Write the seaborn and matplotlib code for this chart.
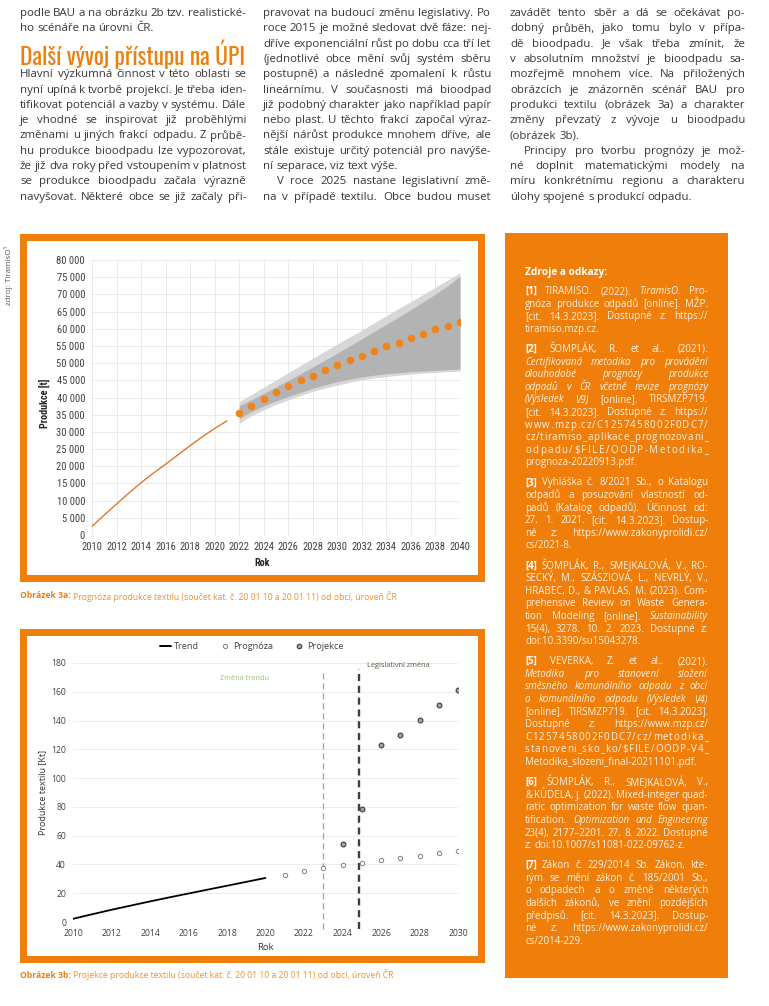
import matplotlib
matplotlib.use("Agg")
import matplotlib.pyplot as plt
import seaborn as sns
from matplotlib.font_manager import FontProperties, fontManager
from matplotlib.patches import Rectangle
from matplotlib.lines import Line2D
from matplotlib.ticker import FuncFormatter, MultipleLocator

# ---------------- data: obrázek 3a (BAU, tuny) ----------------
years_hist = [2010, 2011, 2012, 2013, 2014, 2015, 2016, 2017, 2018, 2019, 2020, 2021]
prod_hist = [2500, 5800, 9000, 12200, 15200, 18000, 20600, 23300, 26000, 28600, 31000, 33200]

years_fc = [2022, 2023, 2024, 2025, 2026, 2027, 2028, 2029, 2030, 2031,
            2032, 2033, 2034, 2035, 2036, 2037, 2038, 2039, 2040]
prod_fc = [35500, 37600, 39700, 41600, 43300, 45000, 46300, 48100, 49500, 50900,
           52200, 53600, 54900, 56000, 57200, 58600, 59800, 60900, 62100]
band_outer_hi = [38800, 40900, 43000, 45100, 47200, 49300, 51400, 53500, 55600, 57600,
                 59600, 61700, 63800, 65900, 67900, 70000, 72100, 74200, 76300]
band_inner_hi = [37600, 39400, 41200, 43100, 45000, 46900, 48900, 50900, 52900, 55000,
                 57100, 59200, 61300, 63400, 65600, 67800, 70100, 72500, 75300]
band_inner_lo = [33900, 35900, 37600, 39000, 40300, 41500, 42700, 43700, 44600, 45300,
                 46000, 46500, 46900, 47200, 47500, 47700, 47900, 48100, 48300]
band_outer_lo = [32500, 34700, 36400, 38000, 39300, 40600, 41800, 42800, 43600, 44400,
                 45100, 45700, 46100, 46500, 46800, 47100, 47300, 47500, 47700]

# ---------------- data: obrázek 3b (Kt) ----------------
years_trend = [2010, 2011, 2012, 2013, 2014, 2015, 2016, 2017, 2018, 2019, 2020]
trend_kt = [2.2, 5.4, 8.5, 11.4, 14.3, 17.1, 19.8, 22.5, 25.2, 27.9, 30.6]
years_prog = [2021, 2022, 2023, 2024, 2025, 2026, 2027, 2028, 2029, 2030]
prog_kt = [32.9, 35.2, 37.5, 39.4, 41.0, 42.9, 44.5, 46.1, 47.7, 49.1]
years_proj = [2024, 2025, 2026, 2027, 2028, 2029, 2030]
proj_kt = [54.4, 78.8, 122.8, 129.7, 140.1, 151.0, 161.2]
trend_change_year = 2023
legislation_year = 2024.87

# ---------------- page text ----------------
# "|" = last line of paragraph (no justify), ">" = indented first line, "" = empty row
col1 = ["podle BAU a na obrázku 2b tzv. realistické-",
        "ho scénáře na úrovni ČR.|", "", "",
        "Hlavní výzkumná činnost v této oblasti se",
        "nyní upíná k tvorbě projekcí. Je třeba iden-",
        "tifikovat potenciál a vazby v systému. Dále",
        "je vhodné se inspirovat již proběhlými",
        "změnami u jiných frakcí odpadu. Z průbě-",
        "hu produkce bioodpadu lze vypozorovat,",
        "že již dva roky před vstoupením v platnost",
        "se produkce bioodpadu začala výrazně",
        "navyšovat. Některé obce se již začaly při-"]
col2 = ["pravovat na budoucí změnu legislativy. Po",
        "roce 2015 je možné sledovat dvě fáze: nej-",
        "dříve exponenciální růst po dobu cca tří let",
        "(jednotlivé obce mění svůj systém sběru",
        "postupně) a následné zpomalení k růstu",
        "lineárnímu. V současnosti má bioodpad",
        "již podobný charakter jako například papír",
        "nebo plast. U těchto frakcí započal výraz-",
        "nější nárůst produkce mnohem dříve, ale",
        "stále existuje určitý potenciál pro navýše-",
        "ní separace, viz text výše.|",
        ">V roce 2025 nastane legislativní změ-",
        "na v případě textilu. Obce budou muset"]
col3 = ["zavádět tento sběr a dá se očekávat po-",
        "dobný průběh, jako tomu bylo v přípa-",
        "dě bioodpadu. Je však třeba zmínit, že",
        "v absolutním množství je bioodpadu sa-",
        "mozřejmě mnohem více. Na přiložených",
        "obrázcích je znázorněn scénář BAU pro",
        "produkci textilu (obrázek 3a) a charakter",
        "změny převzatý z vývoje u bioodpadu",
        "(obrázek 3b).|",
        ">Principy pro tvorbu prognózy je mož-",
        "né doplnit matematickými modely na",
        "míru konkrétnímu regionu a charakteru",
        "úlohy spojené s produkcí odpadu.|"]
heading = "Další vývoj přístupu na ÚPI"

# "^" bold, "~" italic
refs = [
    ["^[1]^ TIRAMISO. (2022). ~TiramisO.~ Pro-",
     "gnóza produkce odpadů [online]. MŽP.",
     "[cit. 14.3.2023]. Dostupné z: https://",
     "tiramiso.mzp.cz."],
    ["^[2]^ ŠOMPLÁK, R. et al.. (2021).",
     "~Certifikovaná metodika pro provádění~",
     "~dlouhodobé prognózy produkce~",
     "~odpadů v ČR včetně revize prognózy~",
     "~(Výsledek V9)~ [online]. TIRSMZP719.",
     "[cit. 14.3.2023]. Dostupné z: https://",
     "www.mzp.cz/C1257458002F0DC7/",
     "cz/tiramiso_aplikace_prognozovani_",
     "odpadu/$FILE/OODP-Metodika_",
     "prognoza-20220913.pdf."],
    ["^[3]^ Vyhláška č. 8/2021 Sb., o Katalogu",
     "odpadů a posuzování vlastností od-",
     "padů (Katalog odpadů). Účinnost od:",
     "27. 1. 2021. [cit. 14.3.2023]. Dostup-",
     "né z: https://www.zakonyprolidi.cz/",
     "cs/2021-8."],
    ["^[4]^ ŠOMPLÁK, R., SMEJKALOVÁ, V., RO-",
     "SECKÝ, M., SZÁSZIOVÁ, L., NEVRLÝ, V.,",
     "HRABEC, D., & PAVLAS, M. (2023). Com-",
     "prehensive Review on Waste Genera-",
     "tion Modeling [online]. ~Sustainability~",
     "15(4), 3278. 10. 2. 2023. Dostupné z:",
     "doi:10.3390/su15043278."],
    ["^[5]^ VEVERKA, Z. et al.. (2021).",
     "~Metodika pro stanovení složení~",
     "~směsného komunálního odpadu z obcí~",
     "~a komunálního odpadu (Výsledek V4)~",
     "[online]. TIRSMZP719. [cit. 14.3.2023].",
     "Dostupné z: https://www.mzp.cz/",
     "C1257458002F0DC7/cz/metodika_",
     "stanoveni_sko_ko/$FILE/OODP-V4_",
     "Metodika_slozeni_final-20211101.pdf."],
    ["^[6]^ ŠOMPLÁK, R., SMEJKALOVÁ, V.,",
     "& KŮDELA, J. (2022). Mixed-integer quad-",
     "ratic optimization for waste flow quan-",
     "tification. ~Optimization and Engineering~",
     "23(4), 2177–2201. 27. 8. 2022. Dostupné",
     "z: doi:10.1007/s11081-022-09762-z."],
    ["^[7]^ Zákon č. 229/2014 Sb. Zákon, kte-",
     "rým se mění zákon č. 185/2001 Sb.,",
     "o odpadech a o změně některých",
     "dalších zákonů, ve znění pozdějších",
     "předpisů. [cit. 14.3.2023]. Dostup-",
     "né z: https://www.zakonyprolidi.cz/",
     "cs/2014-229."],
]

ORANGE = "#ef7f0a"
TEXT = "#383838"
W, H = 769, 1006

sns.set_theme(style="white")
names = {f.name for f in fontManager.ttflist}


def pick(*cands):
    for c in cands:
        if c in names:
            return c
    return "Open Sans"


SANS = "Open Sans"
BODY = SANS
HEAD = pick("Oswald", "Fira Sans Extra Condensed", "Roboto Condensed", "Barlow Condensed")
COND = pick("Roboto Condensed", "Fira Sans Condensed", "Barlow Condensed", "Archivo Narrow")
plt.rcParams["font.family"] = [SANS, "DejaVu Sans"]

fig = plt.figure(figsize=(W / 100, H / 100), dpi=100)
renderer = fig.canvas.get_renderer()
page = fig.add_axes([0, 0, 1, 1], zorder=0)
page.set_xlim(0, W)
page.set_ylim(H, 0)
page.axis("off")


def fp(family, size, b=False, i=False):
    return FontProperties(family=family, size=size,
                          weight="bold" if b else "normal",
                          style="italic" if i else "normal")


def tw(s, prop):
    w, h, d = renderer.get_text_width_height_descent(s, prop, ismath=False)
    return w


def space_w(prop):
    return tw("x x", prop) - tw("xx", prop)


def parse(line):
    out = []
    bold = ital = False
    for w in line.split(" "):
        if w.startswith("^"):
            bold, w = True, w[1:]
        if w.startswith("~"):
            ital, w = True, w[1:]
        b, i = bold, ital
        if w.endswith("^"):
            bold, w = False, w[:-1]
        if w.endswith("~"):
            ital, w = False, w[:-1]
        out.append((w, b, i))
    return out


def natural(line, family, size):
    words = parse(line)
    ws = [tw(w, fp(family, size, b, i)) for w, b, i in words]
    return sum(ws) + space_w(fp(family, size)) * (len(words) - 1)


def draw_line(line, x0, x1, y, family, size, justify, color, bold_color=None):
    words = parse(line)
    props = [fp(family, size, b, i) for w, b, i in words]
    ws = [tw(w, p) for (w, b, i), p in zip(words, props)]
    if justify and len(words) == 1 and len(words[0][0]) > 1:
        # long URL tokens get letter spacing
        token, p = words[0][0], props[0]
        cws = [tw(c, p) for c in token]
        gap = (x1 - x0 - sum(cws)) / (len(token) - 1)
        x = x0
        for c, cw in zip(token, cws):
            page.text(x, y, c, fontproperties=p, color=color, ha="left",
                      va="center_baseline", parse_math=False)
            x += cw + gap
        return
    sp = space_w(props[0])
    gap = sp
    if justify and len(words) > 1:
        gap = max((x1 - x0 - sum(ws)) / (len(words) - 1), 0.55 * sp)
    x = x0
    for (w, b, i), p, wd in zip(words, props, ws):
        c = bold_color if (b and bold_color) else color
        page.text(x, y, w, fontproperties=p, color=c, ha="left",
                  va="center_baseline", parse_math=False)
        x += wd + gap


# ---------------- top three columns ----------------
columns = [(col1, 20, 246), (col2, 263, 491), (col3, 510, 745)]
INDENT = 14
ratio = 0
for lines, x0, x1 in columns:
    for ln in lines:
        if ln and not ln.endswith("|"):
            ind = INDENT if ln.startswith(">") else 0
            ratio = max(ratio, natural(ln.lstrip(">"), BODY, 10) / (x1 - x0 - ind))
body_size = 10 / ratio

for lines, x0, x1 in columns:
    for k, ln in enumerate(lines):
        if not ln:
            continue
        y = 12 + 15.3 * k
        ind = INDENT if ln.startswith(">") else 0
        just = not ln.endswith("|")
        draw_line(ln.lstrip(">").rstrip("|"), x0 + ind, x1, y, BODY, body_size, just, TEXT)

hsize = 10 * 225 / tw(heading, fp(HEAD, 10, True))
page.text(20, 52, heading, fontproperties=fp(HEAD, hsize, True), color=ORANGE,
          ha="left", va="center_baseline")

# ---------------- frames and sidebar ----------------
page.add_patch(Rectangle((20, 234), 465, 348, color=ORANGE, lw=0))
page.add_patch(Rectangle((27, 241), 451, 334, color="white", lw=0))
page.add_patch(Rectangle((20, 629), 465, 334, color=ORANGE, lw=0))
page.add_patch(Rectangle((27, 636), 451, 320, color="white", lw=0))
page.add_patch(Rectangle((505, 233), 223, 745, color=ORANGE, lw=0))

page.text(9, 275, "zdroj: TiramisO¹", rotation=90, fontproperties=fp(SANS, 5.8),
          color="#555555", ha="center", va="center")


def caption(y, bold, rest):
    size = 6.2
    pb = fp(SANS, size, True)
    page.text(20, y, bold, fontproperties=pb, color=ORANGE, ha="left", va="center_baseline")
    x = 20 + tw(bold, pb) + space_w(fp(SANS, size))
    page.text(x, y, rest, fontproperties=fp(SANS, size), color="#f28f2a",
              ha="left", va="center_baseline")


caption(595, "Obrázek 3a:", "Prognóza produkce textilu (součet kat. č. 20 01 10 a 20 01 11) od obcí, úroveň ČR")
caption(974, "Obrázek 3b:", "Projekce produkce textilu (součet kat. č. 20 01 10 a 20 01 11) od obcí, úroveň ČR")

# sidebar references
SX0, SX1 = 525, 708
ref_size = 7.0
page.text(SX0, 271, "Zdroje a odkazy:", fontproperties=fp(SANS, 7.3, True),
          color="white", ha="left", va="center_baseline")
y = 290
for para in refs:
    for k, ln in enumerate(para):
        draw_line(ln, SX0, SX1, y, SANS, ref_size, k < len(para) - 1, "#fff1e3", "white")
        y += 12.6
    y += 7.5


# ---------------- chart axes ----------------
def px_axes(l, t, r, b):
    return fig.add_axes([l / W, 1 - b / H, (r - l) / W, (b - t) / H], zorder=2)


# obrázek 3a
ax = px_axes(92, 260, 460, 535)
ax.set_facecolor("none")
ax.fill_between(years_fc, band_outer_lo, band_outer_hi, color="#d7d7d7", lw=0, zorder=1)
ax.fill_between(years_fc, band_inner_lo, band_inner_hi, color="#b3b3b3", lw=0, zorder=2)
sns.lineplot(x=years_hist, y=prod_hist, ax=ax, color="#e2772a", linewidth=1.0, zorder=3)
sns.scatterplot(x=years_fc, y=prod_fc, ax=ax, color="#f08418", s=30, linewidth=0, zorder=4)
ax.set_xlim(2010, 2040)
ax.set_ylim(0, 80000)
ax.xaxis.set_major_locator(MultipleLocator(2))
ax.yaxis.set_major_locator(MultipleLocator(5000))
ax.yaxis.set_major_formatter(FuncFormatter(lambda v, p: f"{int(v):,}".replace(",", " ")))
ax.grid(True, color="#e6e6e6", linewidth=0.6)
ax.set_axisbelow(True)
for s in ax.spines.values():
    s.set_visible(False)
ax.tick_params(length=0, labelsize=7.6, labelcolor="#404040", pad=5)
for lab in ax.get_xticklabels() + ax.get_yticklabels():
    lab.set_fontfamily(COND)
ax.set_xlabel("Rok", fontfamily=COND, fontweight="bold", fontsize=7.3, color="#222222")
ax.set_ylabel("Produkce [t]", fontfamily=COND, fontweight="bold", fontsize=7.3, color="#222222")
ax.xaxis.set_label_coords(0.462, -0.084)
ax.yaxis.set_label_coords(-0.114, 0.48)

# obrázek 3b
bx = px_axes(73, 663, 458, 922)
bx.set_facecolor("none")
sns.lineplot(x=years_trend, y=trend_kt, ax=bx, color="black", linewidth=1.3, zorder=3)
sns.scatterplot(x=years_prog, y=prog_kt, ax=bx, facecolor="white", edgecolor="#7f7f7f",
                s=10, linewidth=0.7, zorder=4)
sns.scatterplot(x=years_proj, y=proj_kt, ax=bx, facecolor="#a3a3a3", edgecolor="#404040",
                s=12, linewidth=0.8, zorder=4)
bx.axvline(trend_change_year, ymin=-0.027, ymax=0.977, color="#8cb86c", lw=0.9,
           ls=(0, (5, 3)), clip_on=False, zorder=2)
bx.axvline(legislation_year, ymin=-0.027, ymax=0.977, color="#3f3f3f", lw=1.7,
           ls=(0, (3, 2)), clip_on=False, zorder=2)
bx.text(2018.9, 168.9, "Změna trendu", fontsize=5.3, color="#9cc47e", ha="center", va="center")
bx.text(2026.9, 178.6, "Legislativní změna", fontsize=5.3, color="#4a5e44", ha="center", va="center")
bx.set_xlim(2010, 2030)
bx.set_ylim(0, 180)
bx.xaxis.set_major_locator(MultipleLocator(2))
bx.yaxis.set_major_locator(MultipleLocator(20))
bx.grid(True, axis="y", color="#ececec", linewidth=0.7)
bx.set_axisbelow(True)
for s in bx.spines.values():
    s.set_visible(False)
bx.tick_params(length=0, labelsize=6.2, labelcolor="#404040", pad=5)
bx.set_xlabel("Rok", fontsize=6.8, color="#333333")
bx.set_ylabel("Produkce textilu [Kt]", fontsize=6.5, color="#333333")
bx.xaxis.set_label_coords(0.501, -0.083)
bx.yaxis.set_label_coords(-0.066, 0.5)
handles = [Line2D([], [], color="black", lw=1.4),
           Line2D([], [], marker="o", ls="none", mfc="white", mec="#7f7f7f", ms=3, mew=0.7),
           Line2D([], [], marker="o", ls="none", mfc="#a3a3a3", mec="#404040", ms=3.3, mew=0.8)]
bx.legend(handles, ["Trend", "Prognóza", "Projekce"], ncol=3, loc="center",
          bbox_to_anchor=(0.465, 1.062), frameon=False, fontsize=6.6, handlelength=1.2,
          handletextpad=0.3, columnspacing=2.2, labelcolor="#404040")

fig.savefig("out.png", dpi=100)
